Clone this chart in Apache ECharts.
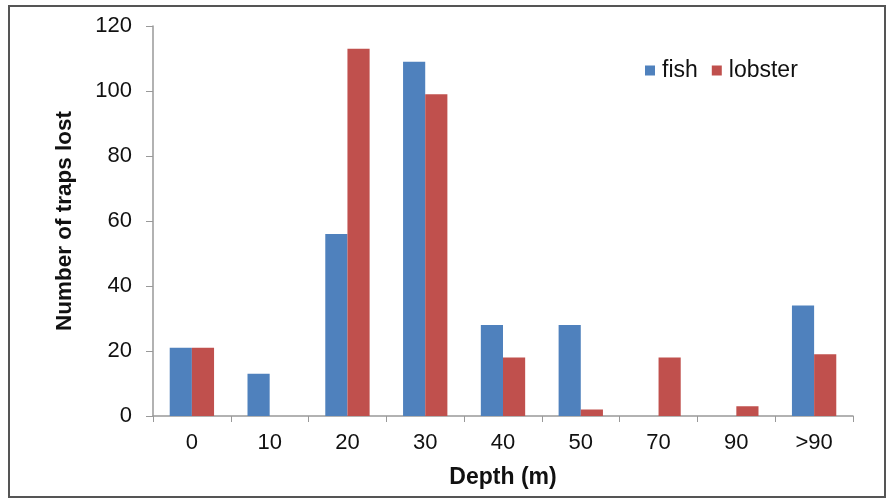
<!DOCTYPE html>
<html>
<head>
<meta charset="utf-8">
<script src="https://cdn.jsdelivr.net/npm/echarts@6/dist/echarts.min.js"></script>
<style>
html,body{margin:0;padding:0;background:#fff;}
#chart{width:887px;height:499px;}
</style>
</head>
<body>
<div id="chart"></div>
<script>
const categories = ['0', '10', '20', '30', '40', '50', '70', '90', '>90'];
const fish = [21, 13, 56, 109, 28, 28, 0, 0, 34];
const lobster = [21, 0, 113, 99, 18, 2, 18, 3, 19];
const yTicks = { min: 0, max: 120, interval: 20 };

const chart = echarts.init(document.getElementById('chart'), null, { renderer: 'canvas' });
const font = '"Liberation Sans", Arial, sans-serif';
chart.setOption({
  animation: false,
  backgroundColor: '#ffffff',
  textStyle: { fontFamily: font },
  graphic: [{
    type: 'rect',
    shape: { x: 9, y: 6, width: 876, height: 491 },
    style: { fill: 'none', stroke: '#555555', lineWidth: 2 },
    silent: true
  }],
  legend: {
    left: 640, top: 54,
    itemWidth: 10, itemHeight: 10, itemGap: 14,
    icon: 'rect',
    textStyle: { fontSize: 23, color: '#111', fontFamily: font, padding: [0, 0, 0, 2] },
    data: ['fish', 'lobster']
  },
  grid: { left: 153, right: 34, top: 26, bottom: 83, containLabel: false },
  xAxis: {
    type: 'category',
    data: categories,
    name: 'Depth (m)',
    nameLocation: 'middle',
    nameGap: 50,
    nameTextStyle: { fontSize: 23, fontWeight: 'bold', color: '#111', fontFamily: font },
    axisLine: { lineStyle: { color: '#999', width: 1.5 } },
    axisTick: { show: true, length: 6, lineStyle: { color: '#999' } },
    axisLabel: { fontSize: 22, color: '#111', margin: 16, fontFamily: font }
  },
  yAxis: {
    type: 'value',
    min: yTicks.min, max: yTicks.max, interval: yTicks.interval,
    name: 'Number of traps lost',
    nameLocation: 'middle',
    nameGap: 77,
    nameTextStyle: { fontSize: 22.5, fontWeight: 'bold', color: '#111', fontFamily: font },
    axisLine: { show: true, lineStyle: { color: '#999', width: 1.5 } },
    axisTick: { show: true, length: 7, lineStyle: { color: '#999' } },
    splitLine: { show: false },
    axisLabel: { fontSize: 22, color: '#111', margin: 21, fontFamily: font }
  },
  series: [
    { name: 'fish', type: 'bar', data: fish, barGap: '0%', barCategoryGap: '43%', itemStyle: { color: '#4F81BD' } },
    { name: 'lobster', type: 'bar', data: lobster, barGap: '0%', barCategoryGap: '43%', itemStyle: { color: '#C0504D' } }
  ]
});
</script>
</body>
</html>
